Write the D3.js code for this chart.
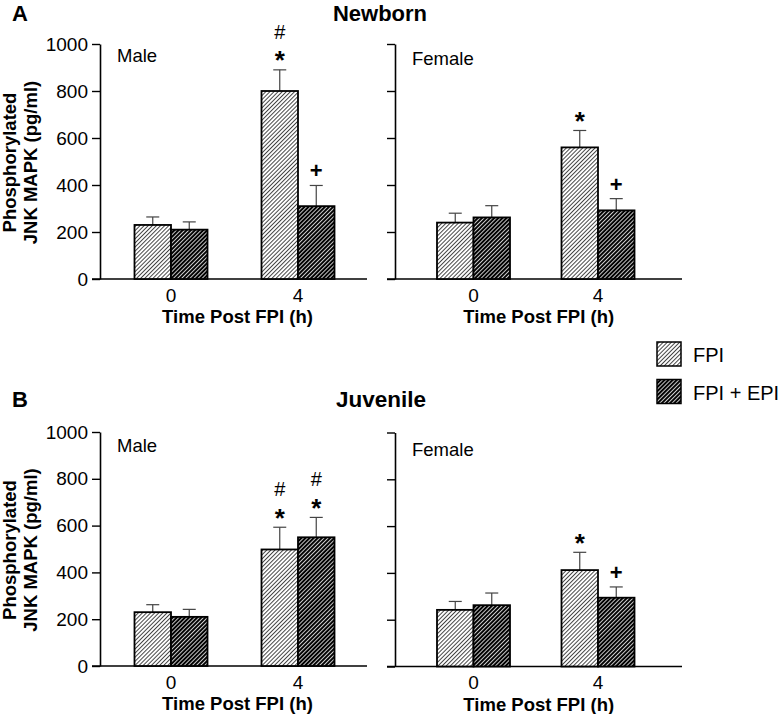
<!DOCTYPE html>
<html>
<head>
<meta charset="utf-8">
<script src="https://cdn.jsdelivr.net/npm/d3@7"></script>
<style>
  body { margin: 0; background: #fff; }
  svg { display: block; font-family: "Liberation Sans", Arial, Helvetica, sans-serif; }
</style>
</head>
<body>
<svg id="chart" width="784" height="714"></svg>
<script>
// ---------------- DATA ----------------
const groups = ["0", "4"];
const series = ["FPI", "FPI + EPI"];
const yTicks = [0, 200, 400, 600, 800, 1000];

const newbornMaleFPI      = [230, 800];
const newbornMaleFPIErr   = [34, 90];
const newbornMaleEPI      = [210, 310];
const newbornMaleEPIErr   = [33, 88];

const newbornFemaleFPI    = [240, 560];
const newbornFemaleFPIErr = [40, 72];
const newbornFemaleEPI    = [262, 292];
const newbornFemaleEPIErr = [50, 50];

const juvenileMaleFPI     = [230, 498];
const juvenileMaleFPIErr  = [32, 95];
const juvenileMaleEPI     = [210, 550];
const juvenileMaleEPIErr  = [32, 85];

const juvenileFemaleFPI    = [242, 412];
const juvenileFemaleFPIErr = [36, 76];
const juvenileFemaleEPI    = [262, 294];
const juvenileFemaleEPIErr = [52, 46];

// significance marks: [panel, group, series, marks (bottom to top)]
const annotations = [
  ["newbornMale", "4", "FPI", ["*", "#"]],
  ["newbornMale", "4", "FPI + EPI", ["+"]],
  ["newbornFemale", "4", "FPI", ["*"]],
  ["newbornFemale", "4", "FPI + EPI", ["+"]],
  ["juvenileMale", "4", "FPI", ["*", "#"]],
  ["juvenileMale", "4", "FPI + EPI", ["*", "#"]],
  ["juvenileFemale", "4", "FPI", ["*"]],
  ["juvenileFemale", "4", "FPI + EPI", ["+"]]
];

// ---------------- LAYOUT ----------------
const panels = [
  { id: "newbornMale", label: "Male", fpi: newbornMaleFPI, fpiErr: newbornMaleFPIErr, epi: newbornMaleEPI, epiErr: newbornMaleEPIErr,
    axisX: 100, top: 44, bottom: 279, xEnd: 367, g0: 71, g1: 198, labels: true, lx: 117, ly: 62 },
  { id: "newbornFemale", label: "Female", fpi: newbornFemaleFPI, fpiErr: newbornFemaleFPIErr, epi: newbornFemaleEPI, epiErr: newbornFemaleEPIErr,
    axisX: 395, top: 44, bottom: 279, xEnd: 682, g0: 78.5, g1: 203, labels: false, lx: 412, ly: 65 },
  { id: "juvenileMale", label: "Male", fpi: juvenileMaleFPI, fpiErr: juvenileMaleFPIErr, epi: juvenileMaleEPI, epiErr: juvenileMaleEPIErr,
    axisX: 100, top: 432, bottom: 666, xEnd: 367, g0: 71, g1: 198, labels: true, lx: 117, ly: 452 },
  { id: "juvenileFemale", label: "Female", fpi: juvenileFemaleFPI, fpiErr: juvenileFemaleFPIErr, epi: juvenileFemaleEPI, epiErr: juvenileFemaleEPIErr,
    axisX: 395, top: 432.5, bottom: 666.5, xEnd: 682, g0: 78.5, g1: 203, labels: false, lx: 412, ly: 456 }
];

const svg = d3.select("#chart");
const defs = svg.append("defs");

// hatch patterns
const pLight = defs.append("pattern").attr("id", "hatchLight")
  .attr("patternUnits", "userSpaceOnUse").attr("width", 2.9).attr("height", 10)
  .attr("patternTransform", "rotate(45)");
pLight.append("rect").attr("width", 2.9).attr("height", 10).attr("fill", "#fff");
pLight.append("line").attr("x1", 0.5).attr("x2", 0.5).attr("y1", 0).attr("y2", 10)
  .attr("stroke", "#222").attr("stroke-width", 0.85);

const pDark = defs.append("pattern").attr("id", "hatchDark")
  .attr("patternUnits", "userSpaceOnUse").attr("width", 2.9).attr("height", 10)
  .attr("patternTransform", "rotate(45)");
pDark.append("rect").attr("width", 2.9).attr("height", 10).attr("fill", "#000");
pDark.append("line").attr("x1", 0.5).attr("x2", 0.5).attr("y1", 0).attr("y2", 10)
  .attr("stroke", "#fff").attr("stroke-width", 0.8);

const fillFor = { "FPI": "url(#hatchLight)", "FPI + EPI": "url(#hatchDark)" };

const barHalf = 36.5;
const sub = d3.scaleBand().domain(series).range([-barHalf, barHalf]).padding(0);

const panelScales = {};

panels.forEach(p => {
  const y = d3.scaleLinear().domain([0, 1000]).range([p.bottom, p.top]);
  const x = d3.scalePoint().domain(groups).range([p.axisX + p.g0, p.axisX + p.g1]);
  panelScales[p.id] = { x, y, p };
  const g = svg.append("g");

  // y axis
  const axis = d3.axisLeft(y).tickValues(yTicks).tickSize(8).tickSizeOuter(0).tickPadding(4)
    .tickFormat(p.labels ? d3.format("d") : () => "");
  const ax = g.append("g").attr("transform", `translate(${p.axisX},0)`).call(axis);
  ax.select(".domain").attr("stroke", "#000").attr("stroke-width", 1.6);
  ax.selectAll(".tick line").attr("stroke", "#000").attr("stroke-width", 1.4);
  ax.selectAll(".tick text").attr("font-size", 19).attr("fill", "#000")
    .attr("font-family", "'Liberation Sans', Arial, sans-serif");

  // x baseline
  g.append("line").attr("x1", p.axisX - 8).attr("x2", p.xEnd)
    .attr("y1", y(0)).attr("y2", y(0)).attr("stroke", "#000").attr("stroke-width", 1.6);

  // x tick labels
  g.selectAll(".xl").data(groups).enter().append("text")
    .attr("x", d => x(d)).attr("y", y(0) + 22.5)
    .attr("text-anchor", "middle").attr("font-size", 19).text(d => d);

  // x title
  g.append("text").attr("x", (x(groups[0]) + x(groups[1])) / 2 + 3).attr("y", y(0) + 44)
    .attr("text-anchor", "middle").attr("font-size", 18.5).attr("font-weight", "bold")
    .text("Time Post FPI (h)");

  // panel label
  g.append("text").attr("x", p.lx).attr("y", p.ly).attr("font-size", 18.5).text(p.label);

  // bars
  const rows = [];
  groups.forEach((grp, i) => {
    rows.push({ grp, s: "FPI", v: p.fpi[i], e: p.fpiErr[i] });
    rows.push({ grp, s: "FPI + EPI", v: p.epi[i], e: p.epiErr[i] });
  });

  // error bars (behind bars)
  const eg = g.append("g");
  rows.forEach(r => {
    const cx = x(r.grp) + sub(r.s) + sub.bandwidth() / 2;
    eg.append("line").attr("x1", cx).attr("x2", cx).attr("y1", y(r.v)).attr("y2", y(r.v + r.e))
      .attr("stroke", "#444").attr("stroke-width", 1.2);
    eg.append("line").attr("x1", cx - 6.5).attr("x2", cx + 6.5).attr("y1", y(r.v + r.e)).attr("y2", y(r.v + r.e))
      .attr("stroke", "#444").attr("stroke-width", 1.2);
  });

  g.selectAll(".bar").data(rows).enter().append("rect")
    .attr("x", d => x(d.grp) + sub(d.s))
    .attr("width", sub.bandwidth())
    .attr("y", d => y(d.v))
    .attr("height", d => y(0) - y(d.v))
    .attr("fill", d => fillFor[d.s])
    .attr("stroke", "#000").attr("stroke-width", 1.8);

  // y axis title (only left panels)
  if (p.labels) {
    const cy = (p.top + p.bottom) / 2 + 1;
    g.append("text").attr("transform", `translate(15.5,${cy}) rotate(-90)`)
      .attr("text-anchor", "middle").attr("font-size", 18.5).attr("font-weight", "bold")
      .text("Phosphorylated");
    g.append("text").attr("transform", `translate(36.5,${cy}) rotate(-90)`)
      .attr("text-anchor", "middle").attr("font-size", 18.5).attr("font-weight", "bold")
      .text("JNK MAPK (pg/ml)");
  }
});

// annotations
const markStyle = {
  "*": { size: 26, weight: "bold", dy: 14.5 },
  "#": { size: 20, weight: "normal", dy: 7 },
  "+": { size: 22, weight: "bold", dy: 8 }
};
annotations.forEach(([pid, grp, s, marks]) => {
  const { x, y, p } = panelScales[pid];
  const i = groups.indexOf(grp);
  const v = s === "FPI" ? p.fpi[i] : p.epi[i];
  const e = s === "FPI" ? p.fpiErr[i] : p.epiErr[i];
  const cx = x(grp) + sub(s) + sub.bandwidth() / 2;
  let cyMark = y(v + e) - 15;
  marks.forEach((m, k) => {
    const st = markStyle[m];
    svg.append("text").attr("x", cx).attr("y", cyMark + st.dy)
      .attr("text-anchor", "middle").attr("font-size", st.size).attr("font-weight", st.weight)
      .text(m);
    cyMark -= 23;
  });
});

// section titles
svg.append("text").attr("x", 12).attr("y", 20.5).attr("font-size", 22).attr("font-weight", "bold").text("A");
svg.append("text").attr("x", 380).attr("y", 20.5).attr("text-anchor", "middle").attr("font-size", 22).attr("font-weight", "bold").text("Newborn");
svg.append("text").attr("x", 12).attr("y", 407).attr("font-size", 22).attr("font-weight", "bold").text("B");
svg.append("text").attr("x", 381).attr("y", 407).attr("text-anchor", "middle").attr("font-size", 22.5).attr("font-weight", "bold").text("Juvenile");

// legend
const legend = svg.append("g");
series.forEach((s, i) => {
  const ly = 342 + i * 37.5;
  legend.append("rect").attr("x", 657).attr("y", ly).attr("width", 24).attr("height", 24)
    .attr("fill", fillFor[s]).attr("stroke", "#000").attr("stroke-width", 1.5);
  legend.append("text").attr("x", 693).attr("y", ly + 20).attr("font-size", 20).text(s);
});
</script>
</body>
</html>
